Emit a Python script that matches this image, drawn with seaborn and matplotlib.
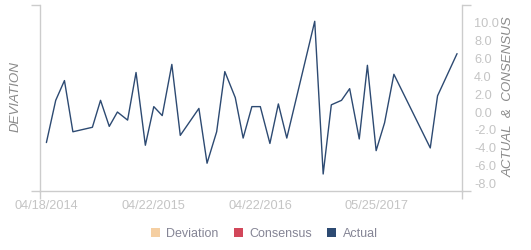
import matplotlib
matplotlib.use("Agg")
import matplotlib.pyplot as plt
import matplotlib.dates as mdates
import matplotlib.patches as mpatches
import seaborn as sns
import pandas as pd
import numpy as np

# ---- data ----
dates = ["2014-04-18", "2014-05-20", "2014-06-19", "2014-07-18", "2014-09-23",
         "2014-10-21", "2014-11-20", "2014-12-18", "2015-01-22", "2015-02-20",
         "2015-03-24", "2015-04-22", "2015-05-21", "2015-06-23", "2015-07-22",
         "2015-09-24", "2015-10-22", "2015-11-24", "2015-12-22", "2016-01-27",
         "2016-02-23", "2016-03-24", "2016-04-22", "2016-05-25", "2016-06-23",
         "2016-07-22", "2016-10-26", "2016-11-24", "2016-12-22", "2017-01-26",
         "2017-02-23", "2017-03-28", "2017-04-25", "2017-05-25", "2017-06-23",
         "2017-07-25", "2017-11-27", "2017-12-22", "2018-02-27"]
actual = [-3.4, 1.3, 3.5, -2.2, -1.7,
          1.3, -1.6, 0.0, -0.9, 4.4,
          -3.7, 0.6, -0.4, 5.3, -2.6,
          0.4, -5.7, -2.2, 4.5, 1.6,
          -2.9, 0.6, 0.6, -3.5, 0.9,
          -2.9, 10.1, -6.9, 0.8, 1.3,
          2.6, -3.0, 5.2, -4.3, -1.2,
          4.2, -4.0, 1.8, 6.5]
tick_dates = ["2014-04-18", "2015-04-22", "2016-04-22", "2017-05-25"]
ytick_values = [-8.0, -6.0, -4.0, -2.0, 0.0, 2.0, 4.0, 6.0, 8.0, 10.0]
legend_labels = ["Deviation", "Consensus", "Actual"]
legend_colors = ["#f5cfa2", "#d2475a", "#2d4a72"]

df = pd.DataFrame({"date": pd.to_datetime(dates), "actual": actual})

sns.set_theme(style="white")
plt.rcParams["font.family"] = ["Liberation Sans", "DejaVu Sans"]

AX_COL = "#cccccc"
TICK_COL = "#c4c4c4"
TITLE_COL = "#8a8a8a"

fig = plt.figure(figsize=(5.31, 2.5), dpi=100)
ax = fig.add_axes([40 / 531, 1 - 190.7 / 250, (461.7 - 40) / 531, (190.7 - 5.3) / 250])

sns.lineplot(data=df, x="date", y="actual", ax=ax, color="#2d4a72", linewidth=1.0)

xmin = pd.Timestamp("2014-03-27")
xmax = pd.Timestamp("2018-03-15")
ax.set_xlim(xmin, xmax)
ymin, ymax = -8.76, 11.88
ax.set_ylim(ymin, ymax)

ax.spines["top"].set_visible(False)
for s in ["left", "right", "bottom"]:
    ax.spines[s].set_visible(True)
    ax.spines[s].set_color(AX_COL)
    ax.spines[s].set_linewidth(1.0)

# x ticks
ax.set_xticks(pd.to_datetime(tick_dates))
ax.xaxis.set_major_formatter(mdates.DateFormatter("%m/%d/%Y"))
ax.set_xticks([mdates.date2num(xmin), mdates.date2num(xmax)], minor=True)
ax.tick_params(axis="x", which="major", length=0, pad=7, labelsize=9.2, labelcolor=TICK_COL)
ax.tick_params(axis="x", which="minor", length=6, width=1, color=AX_COL, direction="out", bottom=True)

# y ticks on right
ax.yaxis.tick_right()
ax.set_yticks(ytick_values)
ax.set_yticklabels([f"{v:.1f}" for v in ytick_values])
ax.set_yticks([ymin, ymax], minor=True)
ax.tick_params(axis="y", which="major", length=0, pad=9, labelsize=9.2, labelcolor=TICK_COL,
               left=False, right=True, labelleft=False, labelright=True)
ax.tick_params(axis="y", which="minor", length=6.5, width=1, color=AX_COL, direction="out",
               left=True, right=True)

ax.set_xlabel("")
ax.set_ylabel("")
ax.grid(False)

fig.text(15.8 / 531, 1 - 97 / 250, "DEVIATION", rotation=90, ha="center", va="center",
         fontsize=9.6, style="italic", color=TITLE_COL)
fig.text(508.3 / 531, 1 - 97 / 250, "ACTUAL  &  CONSENSUS", rotation=90, ha="center", va="center",
         fontsize=9.6, style="italic", color=TITLE_COL)

handles = [mpatches.Patch(facecolor=c, edgecolor="none", label=l) for l, c in zip(legend_labels, legend_colors)]
fig.legend(handles=handles, loc="center", bbox_to_anchor=(264 / 531, 1 - 234 / 250), ncol=3,
           frameon=False, fontsize=9, labelcolor="#858595", handlelength=0.75, handleheight=0.75,
           handletextpad=0.5, columnspacing=1.2, borderpad=0, borderaxespad=0)

fig.savefig("out.png", dpi=100)
